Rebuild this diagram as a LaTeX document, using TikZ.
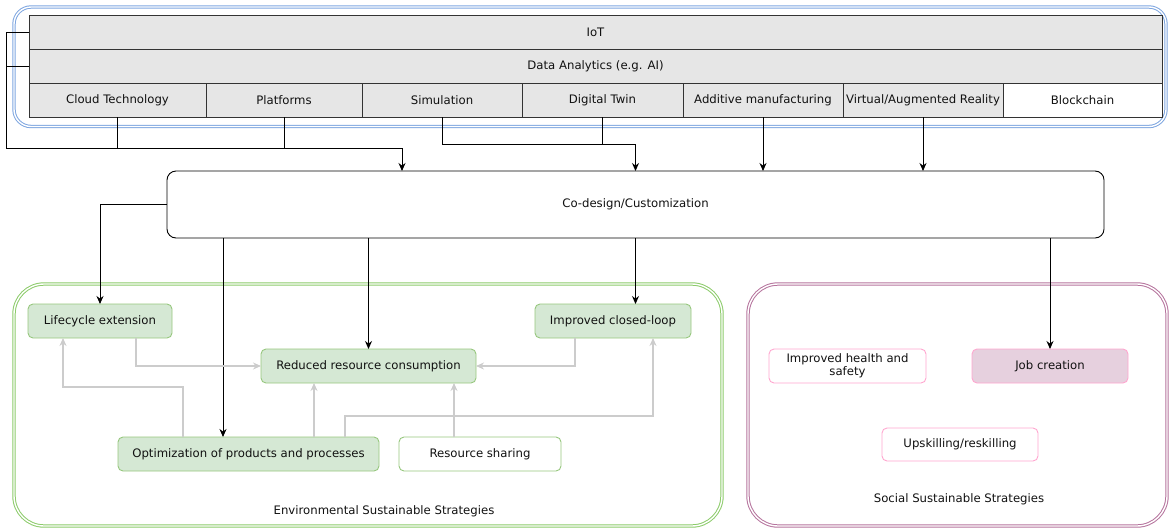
\documentclass[tikz,border=0pt]{standalone}
\usepackage{fontspec}
\setmainfont{DejaVu Sans}
\usetikzlibrary{arrows.meta}
\definecolor{cellfill}{HTML}{E6E6E6}
\definecolor{celledge}{HTML}{333333}
\definecolor{techblue}{HTML}{7EA6E0}
\definecolor{envgreen}{HTML}{8CCB6A}
\definecolor{greenfill}{HTML}{D5E8D4}
\definecolor{greenedge}{HTML}{97C77E}
\definecolor{socpink}{HTML}{B5739D}
\definecolor{pinkedge}{HTML}{FFA6CF}
\definecolor{pinkfill}{HTML}{E6D0DE}
\definecolor{linkgray}{HTML}{CCCCCC}
\definecolor{txt}{HTML}{111111}
\tikzset{
  base/.style={font=\fontsize{11.7}{13}\selectfont, text=txt, inner sep=0pt, outer sep=0pt},
  cell/.style={base, draw=celledge, fill=cellfill, line width=0.9pt, minimum height=34pt},
  hub/.style={base, draw=black, fill=white, line width=0.9pt, rounded corners=9pt},
  envbox/.style={base, draw=greenedge, fill=greenfill, line width=0.9pt, rounded corners=5pt, minimum height=34pt},
  envplain/.style={envbox, fill=white},
  socbox/.style={base, draw=pinkedge, fill=white, line width=0.9pt, rounded corners=5pt, minimum height=34pt, align=center},
  group/.style={line width=1pt, double=white, double distance=1.4pt},
  flow/.style={draw=black, line width=0.9pt, -{Stealth[length=8pt,width=7pt]}},
  link/.style={draw=linkgray, line width=1.1pt, -{Stealth[length=8pt,width=7pt]}},
  plainflow/.style={draw=black, line width=0.9pt},
}
\begin{document}
\begin{tikzpicture}[x=1pt,y=-1pt]
\useasboundingbox (0,0) rectangle (1169,528);

% group frames
\draw[group, draw=techblue, rounded corners=17pt] (14,7) rectangle (1166,126.5);
\draw[group, draw=envgreen, rounded corners=30pt] (14,284) rectangle (722,526);
\draw[group, draw=socpink, rounded corners=30pt] (748,284) rectangle (1167,526);

% technology table
\node[cell, minimum width=1133pt] (iot) at (595.5,32) {IoT};
\node[cell, minimum width=1133pt] (data) at (595.5,66) {Data Analytics (e.g. AI)};
\node[cell, minimum width=177pt] (cloud) at (117.5,100) {Cloud Technology};
\node[cell, minimum width=156pt] (plat) at (284,100) {Platforms};
\node[cell, minimum width=160pt] (sim) at (442,100) {Simulation};
\node[cell, minimum width=161pt] (twin) at (602.5,100) {Digital Twin};
\node[cell, minimum width=160pt] (addm) at (763,100) {Additive manufacturing};
\node[cell, minimum width=160pt] (vr) at (923,100) {Virtual/Augmented Reality};
\node[cell, minimum width=159pt, fill=white] (chain) at (1082.5,100) {Blockchain};

% central box
\node[hub, minimum width=937pt, minimum height=67pt] (codesign) at (635.5,204.5) {Co-design/Customization};

% environmental strategies
\node[envbox, minimum width=144pt] (life) at (100,321) {Lifecycle extension};
\node[envbox, minimum width=215pt] (reduced) at (368.5,366) {Reduced resource consumption};
\node[envbox, minimum width=156pt] (closed) at (613,321) {Improved closed-loop};
\node[envbox, minimum width=261pt] (opt) at (248.5,454) {Optimization of products and processes};
\node[envplain, minimum width=162pt] (share) at (480,454) {Resource sharing};
\node[base] (envlabel) at (384,511) {Environmental Sustainable Strategies};

% social strategies
\node[socbox, minimum width=157pt] (health) at (847.5,366) {Improved health and\\safety};
\node[socbox, minimum width=156pt, fill=pinkfill] (job) at (1050,366) {Job creation};
\node[socbox, minimum width=156pt, minimum height=33pt] (skill) at (960,444.5) {Upskilling/reskilling};
\node[base] (soclabel) at (959,499) {Social Sustainable Strategies};

% technologies feeding the central box
\coordinate (busA) at (6,148);
\coordinate (busB) at (443,144);
\draw[plainflow] (iot.west) -| (busA);
\draw[plainflow] (data.west) -- (data.west -| busA);
\draw[plainflow] (cloud.south) -- (cloud.south |- busA);
\draw[plainflow] (plat.south) -- (plat.south |- busA);
\draw[flow] (busA) -| (402,0 |- codesign.north);
\draw[plainflow] (sim.south) -- (sim.south |- busB);
\draw[plainflow] (twin.south) -- (twin.south |- busB);
\draw[flow] (sim.south |- busB) -| (codesign.north);
\draw[flow] (addm.south) -- (addm.south |- codesign.north);
\draw[flow] (vr.south) -- (vr.south |- codesign.north);

% central box to strategies
\draw[flow] (codesign.west) -| (life.north);
\draw[flow] (223,0 |- codesign.south) -- (223,0 |- opt.north);
\draw[flow] (reduced.north |- codesign.south) -- (reduced.north);
\draw[flow] (codesign.south) -- (codesign.south |- closed.north);
\draw[flow] (job.north |- codesign.south) -- (job.north);

% relations among environmental strategies
\draw[link] (136,0 |- life.south) |- (reduced.west);
\draw[link] (183,0 |- opt.north) -- (183,387) -| (63,0 |- life.south);
\draw[link] (314,0 |- opt.north) -- (314,0 |- reduced.south);
\draw[link] (345,0 |- opt.north) -- (345,416) -| (653,0 |- closed.south);
\draw[link] (575,0 |- closed.south) |- (reduced.east);
\draw[link] (454,0 |- share.north) -- (454,0 |- reduced.south);
\end{tikzpicture}
\end{document}
